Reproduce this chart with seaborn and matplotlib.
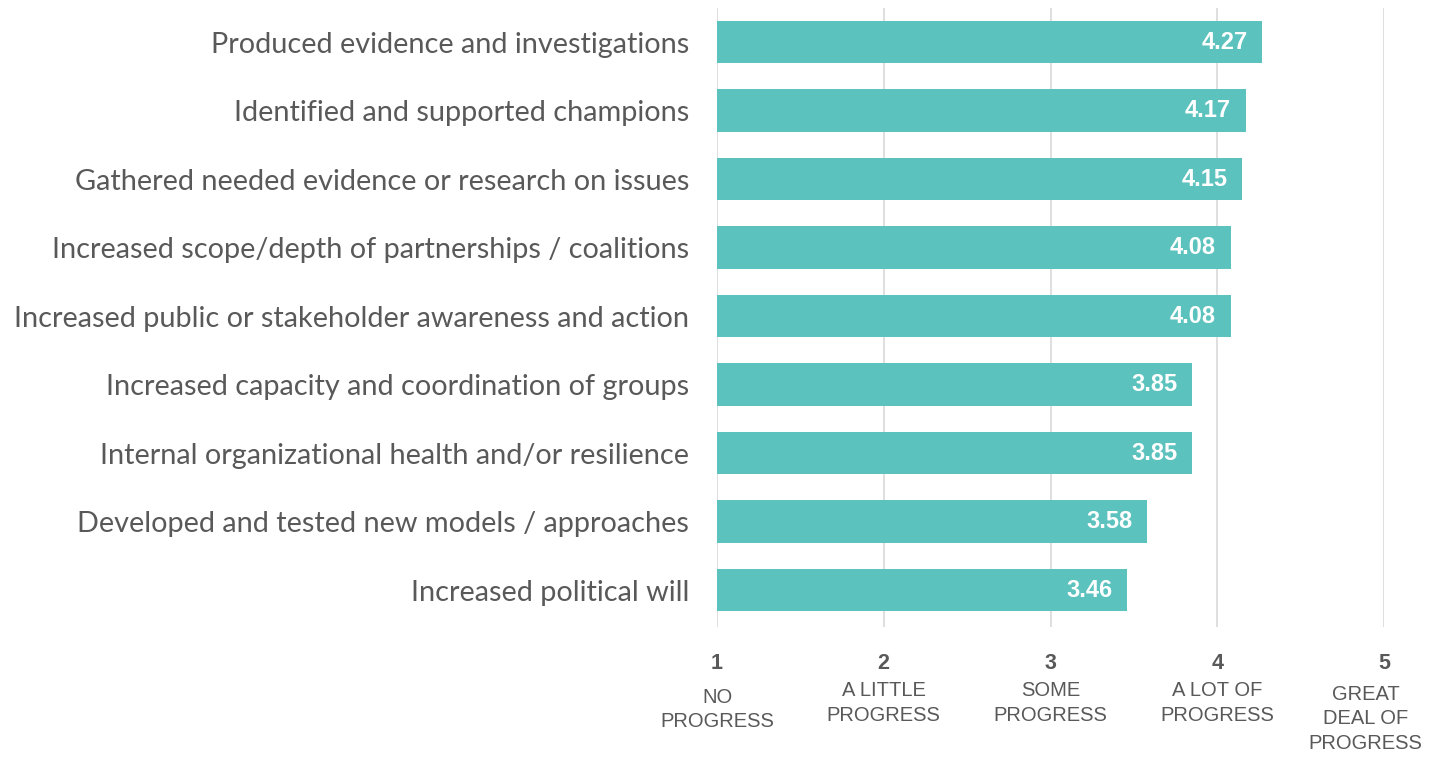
import matplotlib
matplotlib.use("Agg")
import matplotlib.pyplot as plt
import matplotlib.transforms as mtransforms
import seaborn as sns
import pandas as pd

categories = [
    "Produced evidence and investigations",
    "Identified and supported champions",
    "Gathered needed evidence or research on issues",
    "Increased scope/depth of partnerships / coalitions",
    "Increased public or stakeholder awareness and action",
    "Increased capacity and coordination of groups",
    "Internal organizational health and/or resilience",
    "Developed and tested new models / approaches",
    "Increased political will",
]
values = [4.27, 4.17, 4.15, 4.08, 4.08, 3.85, 3.85, 3.58, 3.46]
tick_values = [1, 2, 3, 4, 5]
tick_texts = ["NO\nPROGRESS", "A LITTLE\nPROGRESS", "SOME\nPROGRESS",
              "A LOT OF\nPROGRESS", "GREAT\nDEAL OF\nPROGRESS"]

df = pd.DataFrame({"category": categories, "value": values})

sns.set_theme(style="white")
narrow = ["Liberation Sans", "DejaVu Sans"]
label_font = ["Lato", "DejaVu Sans"]

fig = plt.figure(figsize=(14.37, 7.61), dpi=100)
ax = fig.add_axes([717 / 1437, 1 - 627 / 761, (1384 - 717) / 1437, (627 - 8) / 761])

bar_color = "#5BC2BE"
sns.barplot(data=df, x="value", y="category", orient="h", color=bar_color,
            width=0.62, saturation=1, ax=ax, zorder=3)
for p in ax.patches:
    w = p.get_width()
    p.set_x(1)
    p.set_width(w - 1)
    p.set_edgecolor("none")

ax.set_xlim(1, 5)
ax.set_ylim(8.54, -0.5)
ax.set_xlabel("")
ax.set_ylabel("")
for s in ax.spines.values():
    s.set_visible(False)

ax.set_xticks(tick_values)
ax.set_xticklabels([str(t) for t in tick_values], fontsize=15.5, fontweight="bold",
                   color="#595959", family=narrow)
ax.tick_params(axis="x", length=0, pad=19)
ax.tick_params(axis="y", length=0, pad=20)
for lab in ax.get_yticklabels():
    lab.set_family(label_font)
    lab.set_fontsize(20.8)
    lab.set_color("#595959")

ax.grid(axis="x", color="#D9D9D9", linewidth=1.2, zorder=0)
ax.grid(axis="y", visible=False)
ax.set_axisbelow(True)

trans = mtransforms.blended_transform_factory(ax.transData, ax.transAxes)
offsets = [-0.098, -0.088, -0.088, -0.088, -0.094]
shifts = [0, 0, 0, 0, -0.11]
for xv, txt, off, sh in zip(tick_values, tick_texts, offsets, shifts):
    ax.text(xv + sh, off, txt, transform=trans, ha="center", va="top",
            fontsize=14.5, color="#595959", family=narrow, linespacing=1.35)

for i, v in enumerate(values):
    ax.text(v - 0.09, i, f"{v:.2f}", ha="right", va="center", fontsize=17,
            fontweight="bold", color="white", family=narrow, zorder=4)

fig.savefig("out.png", dpi=100)
